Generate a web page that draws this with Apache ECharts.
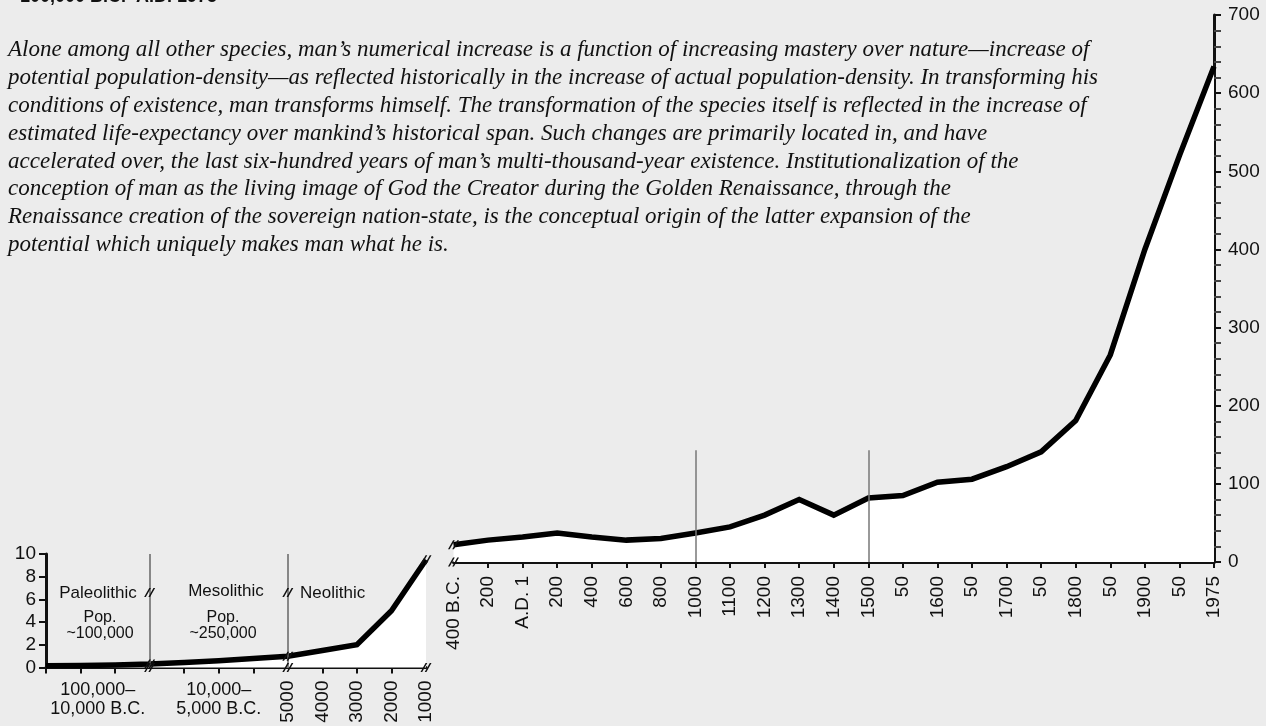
<!DOCTYPE html>
<html><head><meta charset="utf-8">
<script src="https://cdn.jsdelivr.net/npm/echarts@6/dist/echarts.min.js"></script>
<style>html,body{margin:0;padding:0;background:#ececec}#c{width:1266px;height:726px}</style>
</head><body><div id="c"></div>
<script>
// ---- data ----
const mainCategories = ['400 B.C.','200','A.D. 1','200','400','600','800','1000','1100','1200','1300','1400','1500','50','1600','50','1700','50','1800','50','1900','50','1975'];
const mainPopulation = [22,28,32,37,32,28,30,37,45,60,80,60,82,85,102,106,122,141,181,265,400,520,634];
const mainYTicks = [0,100,200,300,400,500,600,700];
const insetCategories = ['','','','','','','','5000','4000','3000','2000','1000'];
const insetPopulation = [0.15,0.18,0.22,0.3,0.45,0.6,0.8,1.0,1.5,2.0,5.0,9.5];
// half-step positions (23) used to centre the era span labels
const insetPeriodSpans = ['','','','100,000–\n10,000 B.C.','','','','','','','10,000–\n5,000 B.C.','','','','','','','','','','','',''];
const insetYTicks = [0,2,4,6,8,10];
const dividerMain = [7, 12];        // 1000 and 1500
const dividerMainTop = 143;
const dividerInset = [3, 7];        // Paleolithic|Mesolithic, Mesolithic|Neolithic
const breaksInset = [3, 7, 11];

const descLines = [
 'Alone among all other species, man’s numerical increase is a function of increasing mastery over nature—increase of',
 'potential population-density—as reflected historically in the increase of actual population-density. In transforming his',
 'conditions of existence, man transforms himself. The transformation of the species itself is reflected in the increase of',
 'estimated life-expectancy over mankind’s historical span. Such changes are primarily located in, and have',
 'accelerated over, the last six-hundred years of man’s multi-thousand-year existence. Institutionalization of the',
 'conception of man as the living image of God the Creator during the Golden Renaissance, through the',
 'Renaissance creation of the sovereign nation-state, is the conceptual origin of the latter expansion of the',
 'potential which uniquely makes man what he is.'
];

const SANS = '"Liberation Sans", Arial, sans-serif';
const SERIF = '"Liberation Serif", "Times New Roman", serif';
const BREAK = 'path://M0,10 L6,0 L8,0 L2,10 Z M5,10 L11,0 L13,0 L7,10 Z';

const chart = echarts.init(document.getElementById('c'), null, {renderer:'canvas'});

const txt = (x, y, text, font, extra) => ({type:'text', x, y, style:Object.assign({text, font, fill:'#111', align:'center', verticalAlign:'middle'}, extra||{})});

const graphics = [
  {type:'text', left:20, top:-12, style:{text:'100,000 B.C.–A.D. 1975', font:'bold 18px '+SANS, fill:'#111'}},
  {type:'text', left:8, top:36, style:{text:descLines.join('\n'), font:'italic 23px '+SERIF, lineHeight:27.9, fill:'#111'}},
  {type:'text', right:70, top:508, style:{text:'Population', font:'bold 20px '+SANS, fill:'#111', align:'right'}},
  {type:'text', right:70, top:531, style:{text:'(Millions)', font:'17.5px '+SANS, fill:'#111', align:'right'}},
  txt(98, 593, 'Paleolithic', '17px '+SANS),
  txt(100, 618, 'Pop.', '16px '+SANS),
  txt(100, 634, '~100,000', '16px '+SANS),
  txt(226, 591, 'Mesolithic', '17px '+SANS),
  txt(223, 618, 'Pop.', '16px '+SANS),
  txt(223, 634, '~250,000', '16px '+SANS),
  txt(300, 593, 'Neolithic', '17px '+SANS, {align:'left'})
];

const breakPoint = (coord) => ({coord, symbol:BREAK, symbolSize:[11,9], itemStyle:{color:'#111'}, label:{show:false}});

const option = {
  backgroundColor:'#ececec',
  animation:false,
  graphic: graphics,
  grid:[
    {left:453.5, right:52, top:15, bottom:164},
    {left:46, right:840, top:554, bottom:58.5}
  ],
  xAxis:[
    {type:'category', gridIndex:0, data:mainCategories, boundaryGap:false,
     axisLine:{lineStyle:{color:'#111', width:3}},
     axisTick:{show:true, length:6, lineStyle:{color:'#111', width:2}, interval:(i)=>i!==0},
     axisLabel:{rotate:90, interval:0, fontFamily:SANS, fontSize:19, color:'#111', margin:14},
     splitLine:{show:false}},
    {type:'category', gridIndex:1, data:insetCategories, boundaryGap:false,
     axisLine:{lineStyle:{color:'#111', width:3}},
     axisTick:{show:true, length:6, lineStyle:{color:'#111', width:2}, interval:(i)=>!breaksInset.includes(i)},
     axisLabel:{rotate:90, interval:0, fontFamily:SANS, fontSize:19, color:'#111', margin:13},
     splitLine:{show:false}},
    {type:'category', gridIndex:1, data:insetPeriodSpans, boundaryGap:false, position:'bottom', offset:0,
     axisLine:{show:false}, axisTick:{show:false},
     axisLabel:{interval:0, fontFamily:SANS, fontSize:18, lineHeight:19, color:'#111', margin:13},
     splitLine:{show:false}}
  ],
  yAxis:[
    {type:'value', gridIndex:0, position:'right', min:mainYTicks[0], max:mainYTicks[mainYTicks.length-1], interval:100,
     axisLine:{show:true, lineStyle:{color:'#111', width:3}},
     axisTick:{show:true, length:7, lineStyle:{color:'#111', width:2}},
     minorTick:{show:true, splitNumber:5, length:7, lineStyle:{color:'#444', width:2}},
     axisLabel:{fontFamily:SANS, fontSize:19, color:'#111', margin:14},
     splitLine:{show:false}},
    {type:'value', gridIndex:1, position:'left', min:insetYTicks[0], max:insetYTicks[insetYTicks.length-1], interval:2,
     axisLine:{show:true, lineStyle:{color:'#111', width:3}},
     axisTick:{show:true, length:7, lineStyle:{color:'#111', width:2}},
     axisLabel:{fontFamily:SANS, fontSize:19, color:'#111', margin:10},
     splitLine:{show:false}}
  ],
  series:[
    {type:'line', xAxisIndex:0, yAxisIndex:0, data:mainPopulation, symbol:'none',
     lineStyle:{color:'#000', width:5.5, join:'miter'}, areaStyle:{color:'#ffffff', opacity:1},
     markLine:{silent:true, symbol:'none', label:{show:false}, lineStyle:{color:'#777', width:1.5, type:'solid'},
       data: dividerMain.map(i=>[{coord:[i,0]},{coord:[i,dividerMainTop]}])},
     markPoint:{silent:true, data:[breakPoint([0, mainPopulation[0]]), breakPoint([0, 0])]},
     z:3},
    {type:'line', xAxisIndex:1, yAxisIndex:1, data:insetPopulation, symbol:'none',
     lineStyle:{color:'#000', width:5.5, join:'miter'}, areaStyle:{color:'#ffffff', opacity:1},
     markLine:{silent:true, symbol:'none', label:{show:false}, lineStyle:{color:'#666', width:1.5, type:'solid'},
       data: dividerInset.map(i=>[{coord:[i,0]},{coord:[i,10]}])},
     markPoint:{silent:true, data:[
       ...breaksInset.map(i=>breakPoint([i, 0])),
       ...breaksInset.map(i=>breakPoint([i, insetPopulation[i]])),
       ...dividerInset.map(i=>breakPoint([i, 6.6]))
     ]},
     z:3}
  ]
};
chart.setOption(option);
</script></body></html>
